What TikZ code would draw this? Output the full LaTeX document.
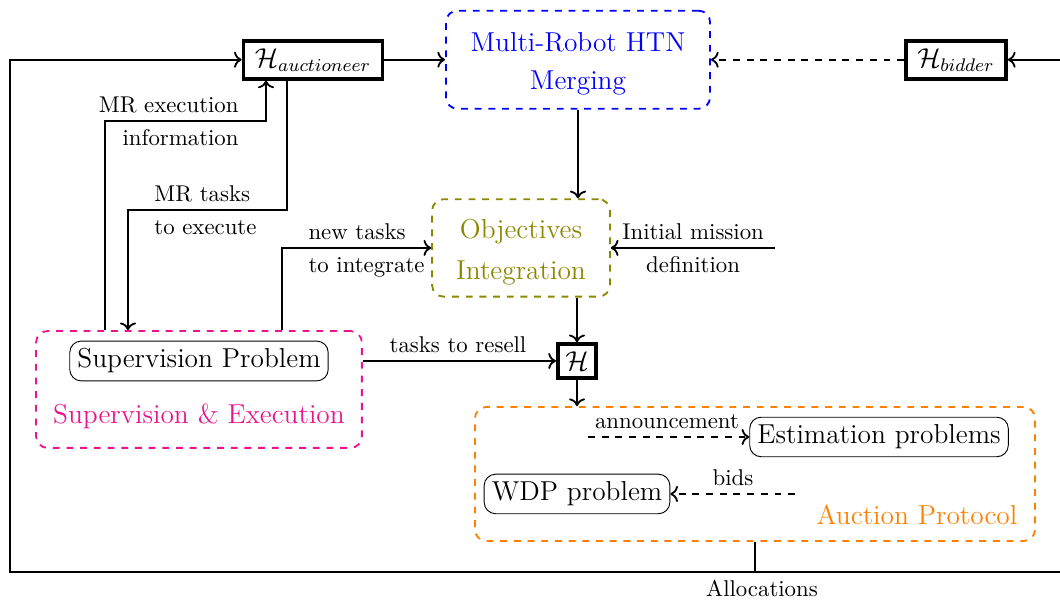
\documentclass[tikz,border=0pt]{standalone}
\usepackage{amsmath,amssymb}
\usepackage{tikz}
\usetikzlibrary{positioning}
\usetikzlibrary{arrows.meta}
\definecolor{supink}{RGB}{235,20,140}

\begin{document}
\begin{tikzpicture}[
    hbox/.style={draw,ultra thick,font=\large},
    group/.style={draw,thick,dashed,rounded corners=5pt},
    prob/.style={draw,rounded corners=5pt,font=\large},
    flow/.style={->,thick},
    dflow/.style={->,thick,dashed}
]
    \useasboundingbox (0,0) rectangle (16.333,9.26);

    % top row
    \node[hbox,inner xsep=5pt] (hauc) at (4.823,8.34) {$\mathcal{H}_{auctioneer}$};
    \node[group,blue,font=\large,align=center,minimum width=4.07cm,minimum height=1.51cm] (merge) at (8.906,8.34) {\rule{0pt}{12pt}Multi-Robot HTN\\[3pt]Merging};
    \node[hbox,inner xsep=5pt] (hbid) at (14.73,8.34) {$\mathcal{H}_{bidder}$};

    % middle
    \node[group,olive,font=\large,align=center,minimum width=2.74cm,minimum height=1.5cm] (obj) at (8.028,5.44) {\rule{0pt}{12pt}Objectives\\[4pt]Integration};
    \node[hbox] (hh) at (8.891,3.698) {$\mathcal{H}$};

    % supervision
    \node[group,supink,minimum width=5.02cm,minimum height=1.8cm] (supgroup) at (3.066,3.259) {};
    \node[prob] (supprob) at (3.066,3.698) {Supervision Problem};
    \node[font=\large,supink] (suplabel) at (3.066,2.851) {Supervision \& Execution};

    % auction
    \node[group,orange,minimum width=8.63cm,minimum height=2.065cm] (auction) at (11.633,1.957) {};
    \node[prob] (estim) at (13.544,2.527) {Estimation problems};
    \node[prob] (wdp) at (8.891,1.649) {WDP problem};
    \node[font=\large,orange] (auclabel) at (14.129,1.325) {Auction Protocol};

    \coordinate (mrexe) at (1.618,7.396);
    \coordinate (mrtask) at (1.972,6.025);
    \coordinate (newt) at (4.345,5.44);
    \coordinate (mission) at (11.941,5.44);
    \coordinate (annstart) at (9.06,2.527);
    \coordinate (bidstart) at (12.25,1.649);
    \coordinate (botleft) at (0.154,0.447);
    \coordinate (botright) at (16.6,0.447);

    \draw[flow] (hauc.east) -- (merge.west);
    \draw[dflow] (hbid.west) -- (merge.east);
    \draw[flow] (merge.south) -- (merge.south |- obj.north);
    \draw[flow] (mission) -- (obj.east);
    \draw[flow] (hh.north |- obj.south) -- (hh.north);
    \draw[flow] (hh.south) -- (hh.south |- auction.north);
    \draw[flow] (supgroup.east |- hh) -- (hh.west);
    \draw[flow] (supgroup.north -| newt) -- (newt) -- (obj.west);
    \draw[flow] (supgroup.north -| mrexe) -- (mrexe) -| ([xshift=-7.24mm]hauc.south);
    \draw[flow] ([xshift=-4.01mm]hauc.south) |- (mrtask) -- (mrtask |- supgroup.north);
    \draw[dflow] (annstart) -- (estim.west);
    \draw[dflow] (bidstart) -- (wdp.east);
    \draw[flow] (auction.south) |- (botleft) |- (hauc.west);
    \draw[flow] (auction.south) |- (botright) |- (hbid.east);

    % labels
    \node[anchor=base east] (lexe) at (3.8,7.526) {MR execution};
    \node[anchor=base east] (linfo) at (3.8,7.011) {information};
    \node[anchor=base west] (ltask) at (2.256,6.155) {MR tasks};
    \node[anchor=base west] (ltodo) at (2.256,5.64) {to execute};
    \node[anchor=base west] (lnew) at (4.63,5.57) {new tasks};
    \node[anchor=base west] (lint) at (4.63,5.055) {to integrate};
    \node[anchor=base] (lmis) at (10.68,5.57) {Initial mission};
    \node[anchor=base] (ldef) at (10.68,5.055) {definition};
    \node[anchor=base] (lres) at (7.057,3.828) {tasks to resell};
    \node[anchor=base] (lann) at (10.277,2.657) {announcement};
    \node[anchor=base] (lbid) at (11.294,1.779) {bids};
    \node[below] (lall) at (11.741,0.447) {Allocations};
\end{tikzpicture}
\end{document}
